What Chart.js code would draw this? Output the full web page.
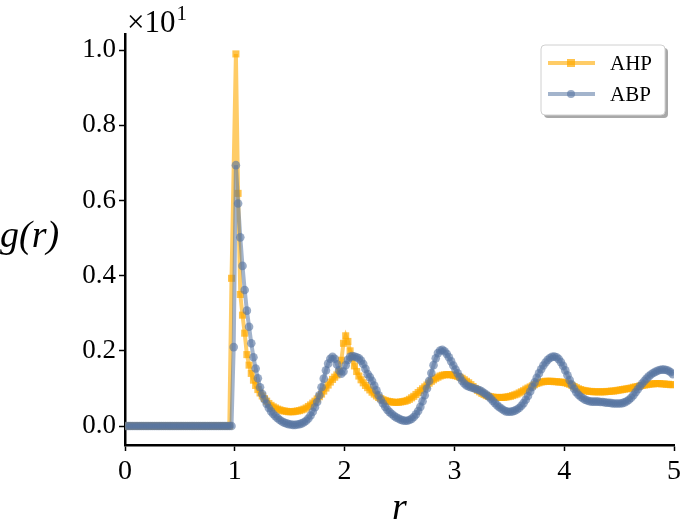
<!DOCTYPE html>
<html>
<head>
<meta charset="utf-8">
<script src="https://cdn.jsdelivr.net/npm/chart.js@4.4.1/dist/chart.umd.min.js"></script>
<style>
  body { margin: 0; background: #fff; }
</style>
</head>
<body>
<canvas id="myChart" width="685" height="528"></canvas>
<script>
// datos (r, g(r))
const r = [
  0.01,0.03,0.05,0.07,0.09,0.11,0.13,0.15,0.17,0.19,
  0.21,0.23,0.25,0.27,0.29,0.31,0.33,0.35,0.37,0.39,
  0.41,0.43,0.45,0.47,0.49,0.51,0.53,0.55,0.57,0.59,
  0.61,0.63,0.65,0.67,0.69,0.71,0.73,0.75,0.77,0.79,
  0.81,0.83,0.85,0.87,0.89,0.91,0.93,0.95,0.97,0.99,
  1.01,1.03,1.05,1.07,1.09,1.11,1.13,1.15,1.17,1.19,
  1.21,1.23,1.25,1.27,1.29,1.31,1.33,1.35,1.37,1.39,
  1.41,1.43,1.45,1.47,1.49,1.51,1.53,1.55,1.57,1.59,
  1.61,1.63,1.65,1.67,1.69,1.71,1.73,1.75,1.77,1.79,
  1.81,1.83,1.85,1.87,1.89,1.91,1.93,1.95,1.97,1.99,
  2.01,2.03,2.05,2.07,2.09,2.11,2.13,2.15,2.17,2.19,
  2.21,2.23,2.25,2.27,2.29,2.31,2.33,2.35,2.37,2.39,
  2.41,2.43,2.45,2.47,2.49,2.51,2.53,2.55,2.57,2.59,
  2.61,2.63,2.65,2.67,2.69,2.71,2.73,2.75,2.77,2.79,
  2.81,2.83,2.85,2.87,2.89,2.91,2.93,2.95,2.97,2.99,
  3.01,3.03,3.05,3.07,3.09,3.11,3.13,3.15,3.17,3.19,
  3.21,3.23,3.25,3.27,3.29,3.31,3.33,3.35,3.37,3.39,
  3.41,3.43,3.45,3.47,3.49,3.51,3.53,3.55,3.57,3.59,
  3.61,3.63,3.65,3.67,3.69,3.71,3.73,3.75,3.77,3.79,
  3.81,3.83,3.85,3.87,3.89,3.91,3.93,3.95,3.97,3.99,
  4.01,4.03,4.05,4.07,4.09,4.11,4.13,4.15,4.17,4.19,
  4.21,4.23,4.25,4.27,4.29,4.31,4.33,4.35,4.37,4.39,
  4.41,4.43,4.45,4.47,4.49,4.51,4.53,4.55,4.57,4.59,
  4.61,4.63,4.65,4.67,4.69,4.71,4.73,4.75,4.77,4.79,
  4.81,4.83,4.85,4.87,4.89,4.91,4.93,4.95,4.97,4.99
];

const ahp = [
  0,0,0,0,0,0,0,0,0,0,
  0,0,0,0,0,0,0,0,0,0,
  0,0,0,0,0,0,0,0,0,0,
  0,0,0,0,0,0,0,0,0,0,
  0,0,0,0,0,0,0,0,3.93,null,
  9.9,6.19,3.5,2.95,2.47,1.9,1.62,1.4,1.22,1.08,
  0.97,0.88,0.8,0.73,0.66,0.6,0.55,0.51,0.48,0.45,
  0.43,0.41,0.4,0.39,0.38,0.38,0.38,0.39,0.4,0.41,
  0.43,0.45,0.48,0.52,0.56,0.61,0.66,0.72,0.78,0.85,
  0.93,1.01,1.09,1.17,1.24,1.3,1.36,1.45,1.75,2.2,
  2.4,2.25,2.0,1.8,1.6,1.45,1.33,1.23,1.15,1.08,
  1.02,0.96,0.9,0.85,0.8,0.76,0.73,0.7,0.68,0.66,
  0.65,0.64,0.63,0.63,0.63,0.64,0.65,0.66,0.68,0.71,
  0.75,0.79,0.84,0.89,0.94,0.99,1.04,1.09,1.14,1.19,
  1.23,1.27,1.3,1.33,1.35,1.36,1.37,1.37,1.36,1.35,
  1.34,1.32,1.3,1.27,1.23,1.19,1.15,1.1,1.05,1.0,
  0.95,0.91,0.87,0.84,0.81,0.79,0.78,0.77,0.76,0.76,
  0.76,0.76,0.76,0.77,0.78,0.79,0.81,0.83,0.85,0.88,
  0.91,0.94,0.98,1.01,1.04,1.07,1.1,1.13,1.15,1.17,
  1.18,1.19,1.19,1.19,1.19,1.18,1.18,1.17,1.17,1.16,
  1.15,1.13,1.11,1.08,1.05,1.02,0.99,0.97,0.95,0.94,
  0.93,0.92,0.92,0.91,0.91,0.91,0.91,0.91,0.91,0.92,
  0.92,0.93,0.93,0.94,0.95,0.96,0.97,0.98,0.99,1.0,
  1.01,1.03,1.04,1.05,1.07,1.08,1.09,1.1,1.11,1.12,
  1.12,1.13,1.13,1.13,1.12,1.12,1.11,1.11,1.1,1.1
];

const abp = [
  0,0,0,0,0,0,0,0,0,0,
  0,0,0,0,0,0,0,0,0,0,
  0,0,0,0,0,0,0,0,0,0,
  0,0,0,0,0,0,0,0,0,0,
  0,0,0,0,0,0,0,0,0,2.1,
  6.94,5.92,5.02,4.26,3.62,3.07,2.64,2.2,1.83,1.53,
  1.27,1.03,0.85,0.71,0.59,0.48,0.39,0.32,0.26,0.21,
  0.16,0.12,0.09,0.07,0.05,0.04,0.03,0.03,0.04,0.05,
  0.07,0.1,0.14,0.2,0.28,0.38,0.5,0.64,0.82,1.03,
  1.26,1.48,1.66,1.79,1.84,1.79,1.64,1.48,1.39,1.45,
  1.62,1.76,1.84,1.86,1.85,1.83,1.8,1.74,1.65,1.52,
  1.38,1.3,1.2,1.08,0.95,0.82,0.7,0.6,0.51,0.43,
  0.37,0.32,0.27,0.23,0.2,0.17,0.15,0.14,0.14,0.16,
  0.19,0.24,0.31,0.4,0.51,0.66,0.82,1.0,1.2,1.41,
  1.62,1.8,1.94,2.01,2.03,1.99,1.92,1.83,1.72,1.61,
  1.5,1.4,1.3,1.2,1.13,1.08,1.05,1.03,1.01,0.99,
  0.97,0.95,0.92,0.88,0.84,0.79,0.73,0.67,0.61,0.55,
  0.5,0.46,0.42,0.39,0.38,0.38,0.39,0.41,0.44,0.48,
  0.54,0.61,0.7,0.8,0.92,1.04,1.16,1.28,1.4,1.51,
  1.61,1.69,1.76,1.81,1.84,1.85,1.83,1.78,1.7,1.6,
  1.48,1.35,1.22,1.1,0.99,0.9,0.83,0.78,0.74,0.7,
  0.68,0.66,0.65,0.65,0.65,0.65,0.64,0.64,0.63,0.62,
  0.62,0.61,0.6,0.6,0.6,0.6,0.61,0.63,0.66,0.7,
  0.75,0.82,0.9,0.98,1.06,1.13,1.2,1.26,1.32,1.37,
  1.41,1.44,1.47,1.49,1.5,1.5,1.49,1.47,1.43,1.38
];

const seriesNames = ["AHP", "ABP"];
const xTicks = [0, 1, 2, 3, 4, 5];
const xTickLabels = ["0", "1", "2", "3", "4", "5"];
const yTicks = [0, 2, 4, 6, 8, 10];
const yTickLabels = ["0.0", "0.2", "0.4", "0.6", "0.8", "1.0"];

const orangeLine = "rgba(255, 170, 0, 0.6)";
const orangeDot = "rgba(255, 170, 0, 0.7)";
const blueLine = "rgba(88, 118, 162, 0.55)";
const blueDot = "rgba(88, 118, 162, 0.62)";
const serif = "Liberation Serif";

function toPoints(ys) {
  return r.map((x, i) => ({ x: x, y: ys[i] }));
}

// textos extra y leyenda
const extras = {
  id: "extras",
  afterDraw(chart) {
    const ctx = chart.ctx;
    const xs = chart.scales.x;
    ctx.save();
    ctx.fillStyle = "#000";
    ctx.textBaseline = "alphabetic";

    ctx.font = "31px " + serif;
    ctx.textAlign = "left";
    ctx.fillText("×10", 127, 32);
    const w = ctx.measureText("×10").width;
    ctx.font = "21px " + serif;
    ctx.fillText("1", 127 + w + 1, 20);

    ctx.font = "italic 38px " + serif;
    ctx.fillText("g(r)", 0, 247);
    ctx.textAlign = "center";
    ctx.fillText("r", xs.getPixelForValue(2.5), 519);

    // leyenda
    const bx = 541, by = 45, bw = 124, bh = 70;
    ctx.fillStyle = "#a8a8a8";
    ctx.beginPath();
    ctx.roundRect(bx + 3, by + 3, bw, bh, 4);
    ctx.fill();
    ctx.fillStyle = "#fff";
    ctx.strokeStyle = "#d0d0d0";
    ctx.lineWidth = 1;
    ctx.beginPath();
    ctx.roundRect(bx, by, bw, bh, 4);
    ctx.fill();
    ctx.stroke();

    const rows = [63, 94];
    chart.data.datasets.forEach((ds, i) => {
      const y = rows[i];
      ctx.strokeStyle = ds.borderColor;
      ctx.lineWidth = 4;
      ctx.beginPath();
      ctx.moveTo(548, y);
      ctx.lineTo(595, y);
      ctx.stroke();
      ctx.fillStyle = ds.pointBackgroundColor;
      ctx.beginPath();
      if (ds.pointStyle === "rect") {
        ctx.rect(567, y - 4, 8, 8);
      } else {
        ctx.arc(571, y, 4, 0, Math.PI * 2);
      }
      ctx.fill();
      ctx.fillStyle = "#000";
      ctx.font = "21px " + serif;
      ctx.textAlign = "left";
      ctx.fillText(ds.label, 610, y + 7);
    });
    ctx.restore();
  }
};

const config = {
  type: "line",
  data: {
    datasets: [
      {
        label: seriesNames[0],
        data: toPoints(ahp),
        order: 1,
        borderColor: orangeLine,
        borderWidth: 4,
        pointStyle: "rect",
        pointRadius: 5,
        pointBorderWidth: 0,
        pointBackgroundColor: orangeDot,
        spanGaps: true
      },
      {
        label: seriesNames[1],
        data: toPoints(abp),
        order: 0,
        borderColor: blueLine,
        borderWidth: 4,
        pointStyle: "circle",
        pointRadius: 4.3,
        pointBorderWidth: 0,
        pointBackgroundColor: blueDot,
        spanGaps: true
      }
    ]
  },
  options: {
    responsive: false,
    animation: false,
    layout: { padding: { top: 34, right: 10, left: 0, bottom: 0 } },
    plugins: { legend: { display: false }, tooltip: { enabled: false } },
    scales: {
      x: {
        type: "linear",
        min: 0,
        max: 5,
        afterBuildTicks: (s) => { s.ticks = xTicks.map((v) => ({ value: v })); },
        afterFit: (s) => { s.height = 83; },
        grid: { drawOnChartArea: false, tickLength: 6, tickColor: "#000", tickWidth: 1.5 },
        border: { color: "#000", width: 2.5 },
        ticks: {
          color: "#000",
          padding: 4,
          maxRotation: 0,
          font: { family: serif, size: 28 },
          callback: (v) => xTickLabels[xTicks.indexOf(v)]
        }
      },
      y: {
        min: -0.505,
        max: 10.43,
        afterBuildTicks: (s) => { s.ticks = yTicks.map((v) => ({ value: v })); },
        afterFit: (s) => { s.width = 125; },
        grid: { drawOnChartArea: false, tickLength: 6, tickColor: "#000", tickWidth: 1.5 },
        border: { color: "#000", width: 2.5 },
        ticks: {
          color: "#000",
          padding: 3,
          font: { family: serif, size: 27 },
          callback: (v) => yTickLabels[yTicks.indexOf(v)]
        }
      }
    }
  },
  plugins: [extras]
};

const myChart = document.getElementById("myChart");
new Chart(myChart, config);
</script>
</body>
</html>
